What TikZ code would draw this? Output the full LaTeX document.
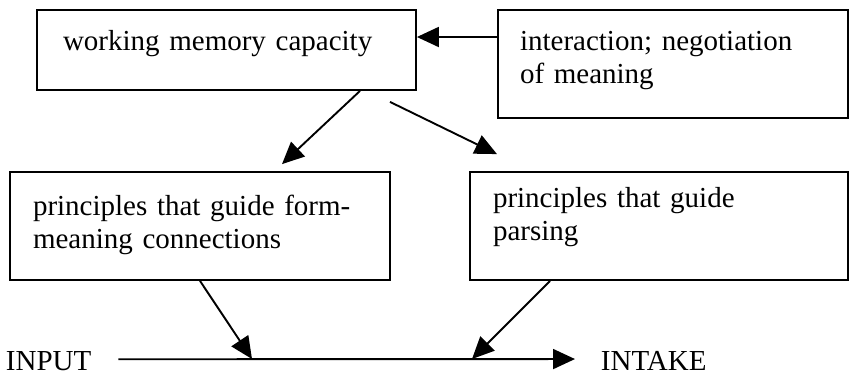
\documentclass[tikz,border=0pt]{standalone}
\usepackage{fontspec}
\setmainfont{Liberation Serif}
\usetikzlibrary{arrows.meta}

\tikzset{factor/.style={draw, line width=1.8pt, inner ysep=0pt, align=left}}
\tikzset{ends/.style={inner sep=0pt, anchor=base west}}

\begin{document}
\begin{tikzpicture}[x=1pt, y=-1pt, line width=1.9pt, >={Triangle[length=22pt,width=20pt]},
    every node/.style={font=\fontsize{29}{33}\selectfont}]
  \useasboundingbox (0,0) rectangle (851,376);
      % boxes
  \node[factor, inner xsep=26pt, text width=327pt, text height=40pt, text depth=40pt] (WorkingMemory) at (226.5,50) {working memory capacity};
  \node[factor, inner xsep=22pt, text width=306pt, text height=40pt, text depth=68pt] (Interaction) at (673,64) {interaction; negotiation\\ of meaning};
  \node[factor, inner xsep=23pt, text width=334pt, text height=43pt, text depth=65pt] (FormMeaning) at (200,226) {principles that guide form-\\ meaning connections};
  \node[factor, inner xsep=23pt, text width=332pt, text height=35pt, text depth=73pt] (Parsing) at (659,226) {principles that guide\\ parsing};

  \node[ends] (Input) at (5,370) {INPUT};
  \node[ends] (Intake) at (600,370) {INTAKE};

  \coordinate (JoinA) at (252,359);
  \coordinate (JoinB) at (472,359);

  \draw[->] ([yshift=27pt]Interaction.west) to ([yshift=13pt]WorkingMemory.east);

  \draw[->] ([xshift=133.5pt]WorkingMemory.south) to ([xshift=82pt,yshift=7pt]FormMeaning.north);
  \draw[->] ([xshift=163.5pt,yshift=-11pt]WorkingMemory.south) to ([xshift=-162pt,yshift=17pt]Parsing.north);

  \draw[->] ([xshift=26pt,yshift=1.4pt]Input.east) to ([xshift=-25pt,yshift=1.4pt]Intake.west);

  \draw[->] (FormMeaning.south) to (JoinA);
  \draw[->] ([xshift=-109pt]Parsing.south) to (JoinB);

\end{tikzpicture}
\end{document}
